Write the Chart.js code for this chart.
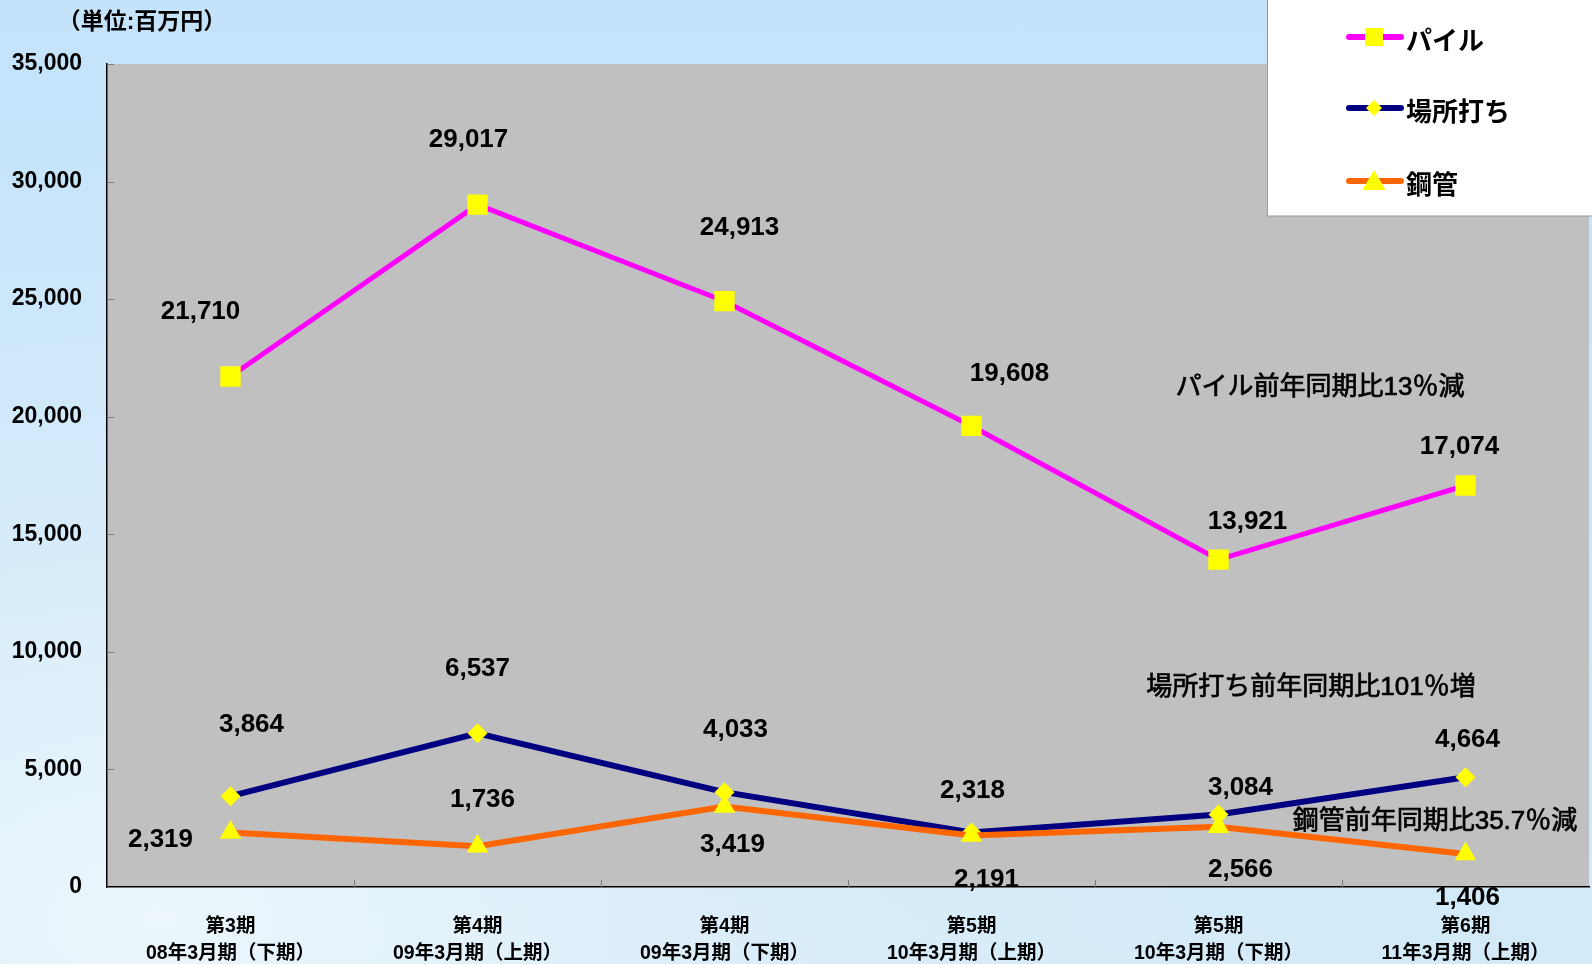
<!DOCTYPE html>
<html>
<head>
<meta charset="utf-8">
<script src="https://cdn.jsdelivr.net/npm/chart.js@4.4.1/dist/chart.umd.min.js"></script>
<style>
  html, body { margin: 0; padding: 0; overflow: hidden; }
  body {
    width: 1592px; height: 964px;
    background:
      radial-gradient(ellipse at 10% 95%, rgba(240,248,252,0.85) 0%, rgba(225,240,250,0.5) 30%, rgba(200,230,250,0) 60%),
      linear-gradient(180deg, #c4e3fa 0%, #c9e6fa 50%, #d3eaf8 100%);
  }
  canvas { display: block; }
</style>
</head>
<body>
<canvas id="chart" width="1592" height="964"></canvas>
<script>
const categories = [
  ['第3期', '08年3月期（下期）'],
  ['第4期', '09年3月期（上期）'],
  ['第4期', '09年3月期（下期）'],
  ['第5期', '10年3月期（上期）'],
  ['第5期', '10年3月期（下期）'],
  ['第6期', '11年3月期（上期）']
];
const seriesNames = ['パイル', '場所打ち', '鋼管'];
const pileValues = [21710, 29017, 24913, 19608, 13921, 17074];
const bashoValues = [3864, 6537, 4033, 2318, 3084, 4664];
const kokanValues = [2319, 1736, 3419, 2191, 2566, 1406];
const yTicks = [0, 5000, 10000, 15000, 20000, 25000, 30000, 35000];
const unitLabel = '（単位:百万円）';
const notes = ['パイル前年同期比13％減', '場所打ち前年同期比101％増', '鋼管前年同期比35.7％減'];

const FONT = '"Liberation Sans", Arial, "Noto Sans CJK JP", sans-serif';
const fmt = v => v.toLocaleString('en-US');

// where each value label sits relative to its point (px)
const pileOffsets = [[-30, -65], [-9, -65], [15, -73], [38, -52], [29, -38], [-6, -39]];
const bashoOffsets = [[21, -71], [0, -64], [11, -62], [1, -42], [22, -27], [2, -38]];
const kokanOffsets = [[-70, 7], [5, -46], [8, 38], [15, 44], [22, 43], [2, 44]];

function marker(ctx, style, x, y, s) {
  ctx.fillStyle = '#ffff00';
  ctx.beginPath();
  if (style === 'rect') {
    ctx.rect(x - s / 2, y - s / 2, s, s);
  } else if (style === 'rectRot') {
    ctx.moveTo(x, y - s / 2); ctx.lineTo(x + s / 2, y); ctx.lineTo(x, y + s / 2); ctx.lineTo(x - s / 2, y);
  } else {
    ctx.moveTo(x, y - s * 0.55); ctx.lineTo(x + s * 0.58, y + s * 0.45); ctx.lineTo(x - s * 0.58, y + s * 0.45);
  }
  ctx.closePath();
  ctx.fill();
}

const plotBg = {
  id: 'plotBg',
  beforeDraw(chart) {
    const { ctx, chartArea: a } = chart;
    ctx.save();
    ctx.fillStyle = '#c0c0c0';
    ctx.fillRect(a.left, a.top, a.right - a.left, a.bottom - a.top);
    ctx.restore();
  }
};

const innerTicks = {
  id: 'innerTicks',
  beforeDatasetsDraw(chart) {
    const { ctx, chartArea: a, scales: { x, y } } = chart;
    ctx.save();
    ctx.strokeStyle = '#7a7a7a';
    ctx.lineWidth = 1;
    ctx.beginPath();
    yTicks.forEach(v => {
      const py = Math.round(y.getPixelForValue(v)) + 0.5;
      ctx.moveTo(a.left, py); ctx.lineTo(a.left + 7, py);
    });
    for (let k = 1; k < categories.length; k++) {
      const px = Math.round((x.getPixelForValue(k - 1) + x.getPixelForValue(k)) / 2) + 0.5;
      ctx.moveTo(px, a.bottom); ctx.lineTo(px, a.bottom - 7);
    }
    ctx.stroke();
    ctx.restore();
  }
};

const valueLabels = {
  id: 'valueLabels',
  afterDatasetsDraw(chart) {
    const { ctx } = chart;
    ctx.save();
    ctx.font = 'bold 26px ' + FONT;
    ctx.fillStyle = '#000';
    ctx.textAlign = 'center';
    ctx.textBaseline = 'middle';
    chart.data.datasets.forEach((ds, i) => {
      chart.getDatasetMeta(i).data.forEach((pt, j) => {
        const [dx, dy] = ds.labelOffsets[j];
        ctx.fillText(fmt(ds.data[j]), pt.x + dx, pt.y + dy);
      });
    });
    ctx.restore();
  }
};

const extras = {
  id: 'extras',
  afterDraw(chart) {
    const { ctx } = chart;
    ctx.save();
    // growth notes
    ctx.font = '26px ' + FONT;
    ctx.fillStyle = '#000';
    ctx.strokeStyle = '#000';
    ctx.lineWidth = 0.7;
    ctx.textAlign = 'center';
    ctx.textBaseline = 'middle';
    [[1320, 388], [1311, 688], [1435, 822]].forEach(([x, y], i) => {
      ctx.fillText(notes[i], x, y);
      ctx.strokeText(notes[i], x, y);
    });

    // unit
    ctx.font = 'bold 23px ' + FONT;
    ctx.fillText(unitLabel, 142, 23);

    // legend box
    ctx.fillStyle = '#fff';
    ctx.fillRect(1267, 0, 330, 216);
    ctx.strokeStyle = '#9a9a9a';
    ctx.lineWidth = 1;
    ctx.strokeRect(1267.5, -1, 330, 217);
    const rows = [37, 108, 181];
    ctx.textAlign = 'left';
    ctx.font = 'bold 26px ' + FONT;
    chart.data.datasets.forEach((ds, i) => {
      const y = rows[i];
      ctx.strokeStyle = ds.borderColor;
      ctx.lineWidth = 6;
      ctx.lineCap = 'round';
      ctx.beginPath(); ctx.moveTo(1349, y); ctx.lineTo(1401, y); ctx.stroke();
      const s = ds.pointStyle === 'rect' ? 18 : ds.pointStyle === 'rectRot' ? 16 : 20;
      marker(ctx, ds.pointStyle, 1374, y, s);
      ctx.fillStyle = '#000';
      ctx.fillText(ds.label, 1406, y + 6);
    });
    ctx.restore();
  }
};

new Chart(document.getElementById('chart'), {
  type: 'line',
  data: {
    labels: categories,
    datasets: [
      {
        label: seriesNames[0], data: pileValues, labelOffsets: pileOffsets,
        borderColor: '#ff00ff', borderWidth: 5, pointStyle: 'rect', pointRadius: 14.4,
        pointBackgroundColor: '#ffff00', pointBorderWidth: 0, order: 2
      },
      {
        label: seriesNames[1], data: bashoValues, labelOffsets: bashoOffsets,
        borderColor: '#000080', borderWidth: 6, pointStyle: 'rectRot', pointRadius: 10,
        pointBackgroundColor: '#ffff00', pointBorderWidth: 0, order: 1
      },
      {
        label: seriesNames[2], data: kokanValues, labelOffsets: kokanOffsets,
        borderColor: '#ff6600', borderWidth: 6, pointStyle: 'triangle', pointRadius: 12.5,
        pointBackgroundColor: '#ffff00', pointBorderWidth: 0, order: 0
      }
    ]
  },
  options: {
    responsive: false,
    devicePixelRatio: 1,
    animation: false,
    layout: { autoPadding: false, padding: { top: 64, right: 3, left: 0, bottom: 0 } },
    plugins: { legend: { display: false }, tooltip: { enabled: false } },
    scales: {
      x: {
        offset: true,
        grid: { display: false, drawTicks: false },
        border: { display: true, color: '#000', width: 1.5 },
        ticks: {
          color: '#000', padding: 26, maxRotation: 0, autoSkip: false,
          font: { family: FONT, size: 19.5, weight: 'bold', lineHeight: '27px' }
        },
        afterFit: s => { s.height = 77; s.paddingLeft = 0; s.paddingRight = 0; }
      },
      y: {
        min: 0, max: 35000,
        grid: { display: false, drawTicks: false },
        border: { display: true, color: '#000', width: 1.5 },
        ticks: {
          stepSize: 5000, color: '#000', padding: 25,
          font: { family: FONT, size: 23, weight: 'bold' },
          callback: v => fmt(v)
        },
        afterFit: s => { s.width = 107; s.paddingTop = 0; s.paddingBottom = 0; }
      }
    }
  },
  plugins: [plotBg, innerTicks, valueLabels, extras]
});
</script>
</body>
</html>
